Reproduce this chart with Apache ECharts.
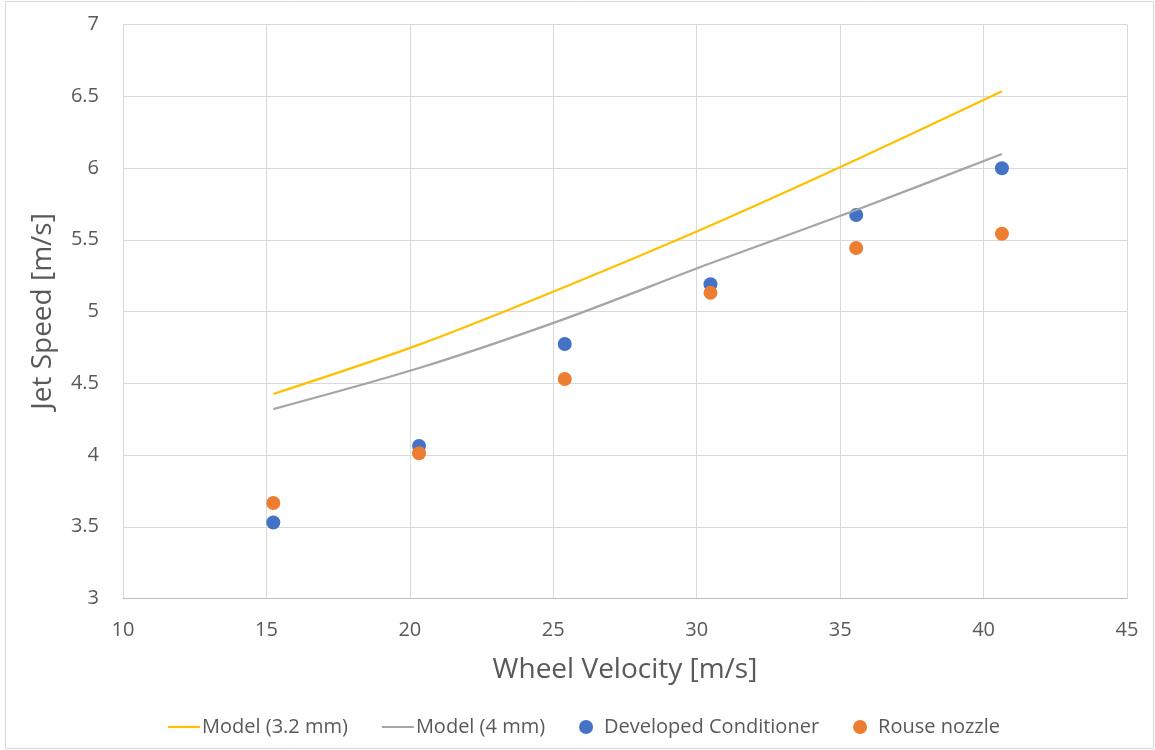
<!DOCTYPE html>
<html>
<head>
<meta charset="utf-8">
<script src="https://cdn.jsdelivr.net/npm/echarts@6/dist/echarts.min.js"></script>
<style>
html,body{margin:0;padding:0;background:#fff;}
#chart{width:1155px;height:750px;}
</style>
</head>
<body>
<div id="chart"></div>
<script>
const wheelVelocity = [15.24, 20.32, 25.40, 30.48, 35.56, 40.64];
const model32 = [4.425, 4.769, 5.171, 5.599, 6.057, 6.535];
const model4 = [4.320, 4.606, 4.949, 5.336, 5.707, 6.098];
const developedConditioner = [3.53, 4.063, 4.774, 5.19, 5.672, 5.998];
const rouseNozzle = [3.665, 4.012, 4.53, 5.13, 5.443, 5.542];
const seriesNames = ['Model (3.2 mm)', 'Model (4 mm)', 'Developed Conditioner', 'Rouse nozzle'];

const pairs = ys => wheelVelocity.map((x, i) => [x, ys[i]]);
const font = '"Open Sans", sans-serif';
const lineIcon = 'path://M0,0 L32,0 L32,2.2 L0,2.2 Z';

const chart = echarts.init(document.getElementById('chart'));
chart.setOption({
  animation: false,
  backgroundColor: '#fff',
  graphic: [{
    type: 'rect', shape: {x: 5.5, y: 1.5, width: 1148, height: 747},
    style: {fill: 'none', stroke: '#D9D9D9', lineWidth: 1}, silent: true, z: -10
  }],
  grid: {left: 123, right: 28, top: 24.5, bottom: 151.5},
  xAxis: {
    type: 'value', min: 10, max: 45, interval: 5,
    name: 'Wheel Velocity [m/s]', nameLocation: 'middle', nameGap: 58,
    nameTextStyle: {fontFamily: font, fontSize: 28, color: '#595959'},
    axisLine: {show: true, lineStyle: {color: '#BFBFBF', width: 1}},
    axisTick: {show: false},
    axisLabel: {fontFamily: font, fontSize: 20, color: '#595959', margin: 22},
    splitLine: {show: true, lineStyle: {color: '#D9D9D9', width: 1}}
  },
  yAxis: {
    type: 'value', min: 3, max: 7, interval: 0.5,
    name: 'Jet Speed [m/s]', nameLocation: 'middle', nameGap: 66, nameRotate: 90,
    nameTextStyle: {fontFamily: font, fontSize: 28, color: '#595959'},
    axisLine: {show: false},
    axisTick: {show: false},
    axisLabel: {fontFamily: font, fontSize: 20, color: '#595959', margin: 24},
    splitLine: {show: true, lineStyle: {color: '#D9D9D9', width: 1}}
  },
  legend: {
    bottom: 8, left: 163,
    itemGap: 34, itemWidth: 32, itemHeight: 14,
    symbolKeepAspect: true,
    textStyle: {fontFamily: font, fontSize: 20, color: '#595959', padding: [0,0,0,-3]},
    data: [
      {name: seriesNames[0], icon: lineIcon},
      {name: seriesNames[1], icon: lineIcon},
      {name: seriesNames[2], icon: 'circle'},
      {name: seriesNames[3], icon: 'circle'}
    ]
  },
  series: [
    {name: seriesNames[0], type: 'line', data: pairs(model32), smooth: 0.3, symbol: 'none',
     lineStyle: {color: '#FFC000', width: 2.25}, itemStyle: {color: '#FFC000'}},
    {name: seriesNames[1], type: 'line', data: pairs(model4), smooth: 0.3, symbol: 'none',
     lineStyle: {color: '#A5A5A5', width: 2.25}, itemStyle: {color: '#A5A5A5'}},
    {name: seriesNames[2], type: 'scatter', data: pairs(developedConditioner), symbolSize: 14,
     itemStyle: {color: '#4472C4', opacity: 1}},
    {name: seriesNames[3], type: 'scatter', data: pairs(rouseNozzle), symbolSize: 14,
     itemStyle: {color: '#ED7D31', opacity: 1}}
  ]
});
</script>
</body>
</html>
